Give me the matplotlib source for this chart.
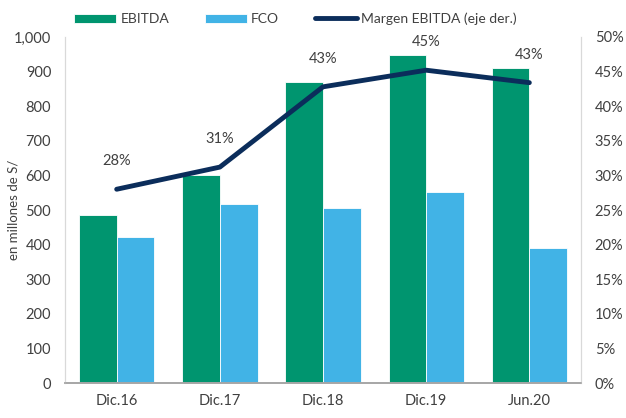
import matplotlib
matplotlib.use("Agg")
import matplotlib.pyplot as plt
import numpy as np
from matplotlib.ticker import FuncFormatter, MultipleLocator

categories = ["Dic.16", "Dic.17", "Dic.18", "Dic.19", "Jun.20"]
ebitda = [485, 601, 870, 948, 910]
fco = [422, 517, 506, 552, 390]
margen = [28.0, 31.2, 42.8, 45.2, 43.4]
margen_labels = ["28%", "31%", "43%", "45%", "43%"]

plt.rcParams['font.family'] = ['Lato', 'DejaVu Sans']
txt = '#404040'
green = '#00956F'
blue = '#41B3E6'
navy = '#0B2D5B'

fig = plt.figure(figsize=(6.26, 4.18), dpi=100)
ax = fig.add_axes([0.104, 0.0837, 0.824, 0.8278])
ax2 = ax.twinx()

x = np.arange(len(categories))
w = 0.365
ax.bar(x - w/2, ebitda, w, color=green, edgecolor='white', linewidth=0.6, label='EBITDA', zorder=2)
ax.bar(x + w/2, fco, w, color=blue, edgecolor='white', linewidth=0.6, label='FCO', zorder=2)
ax.set_ylim(0, 1000)
ax.set_xlim(-0.5, len(categories) - 0.5)
ax.yaxis.set_major_locator(MultipleLocator(100))
ax.yaxis.set_major_formatter(FuncFormatter(lambda v, p: f"{int(v):,}"))
ax.set_xticks(x)
ax.set_xticklabels(categories)
ax.set_ylabel("en millones de S/", color=txt, fontsize=9.5)
ax.yaxis.set_label_coords(-0.088, 0.5)

ln, = ax2.plot(x, margen, color=navy, linewidth=3.5, solid_capstyle='round', label='Margen EBITDA (eje der.)', zorder=3)
ax2.set_ylim(0, 50)
ax2.yaxis.set_major_locator(MultipleLocator(5))
ax2.yaxis.set_major_formatter(FuncFormatter(lambda v, p: f"{int(v)}%"))
for xi, m, lab in zip(x, margen, margen_labels):
    ax2.annotate(lab, (xi, m), xytext=(0, 15), textcoords='offset points',
                 ha='center', va='bottom', color=txt, fontsize=10.5)

for a in (ax, ax2):
    a.tick_params(length=0, colors=txt, labelsize=10.5)
    a.spines['top'].set_visible(False)
    for s in ('left', 'right', 'bottom'):
        a.spines[s].set_color('#D9D9D9')
    a.spines['bottom'].set_color('#A6A6A6')
    a.spines['bottom'].set_linewidth(1.2)
ax.tick_params(axis='y', pad=10)
ax.tick_params(axis='x', pad=8)
ax2.tick_params(axis='y', pad=10)

h1, l1 = ax.get_legend_handles_labels()
fig.legend(h1 + [ln], l1 + [ln.get_label()], loc='upper center', bbox_to_anchor=(0.472, 1.0),
           ncol=3, frameon=False, fontsize=10, handlelength=3.0, handleheight=0.6,
           columnspacing=2.6, handletextpad=0.3, labelcolor=txt)

fig.savefig("out.png", dpi=100)
